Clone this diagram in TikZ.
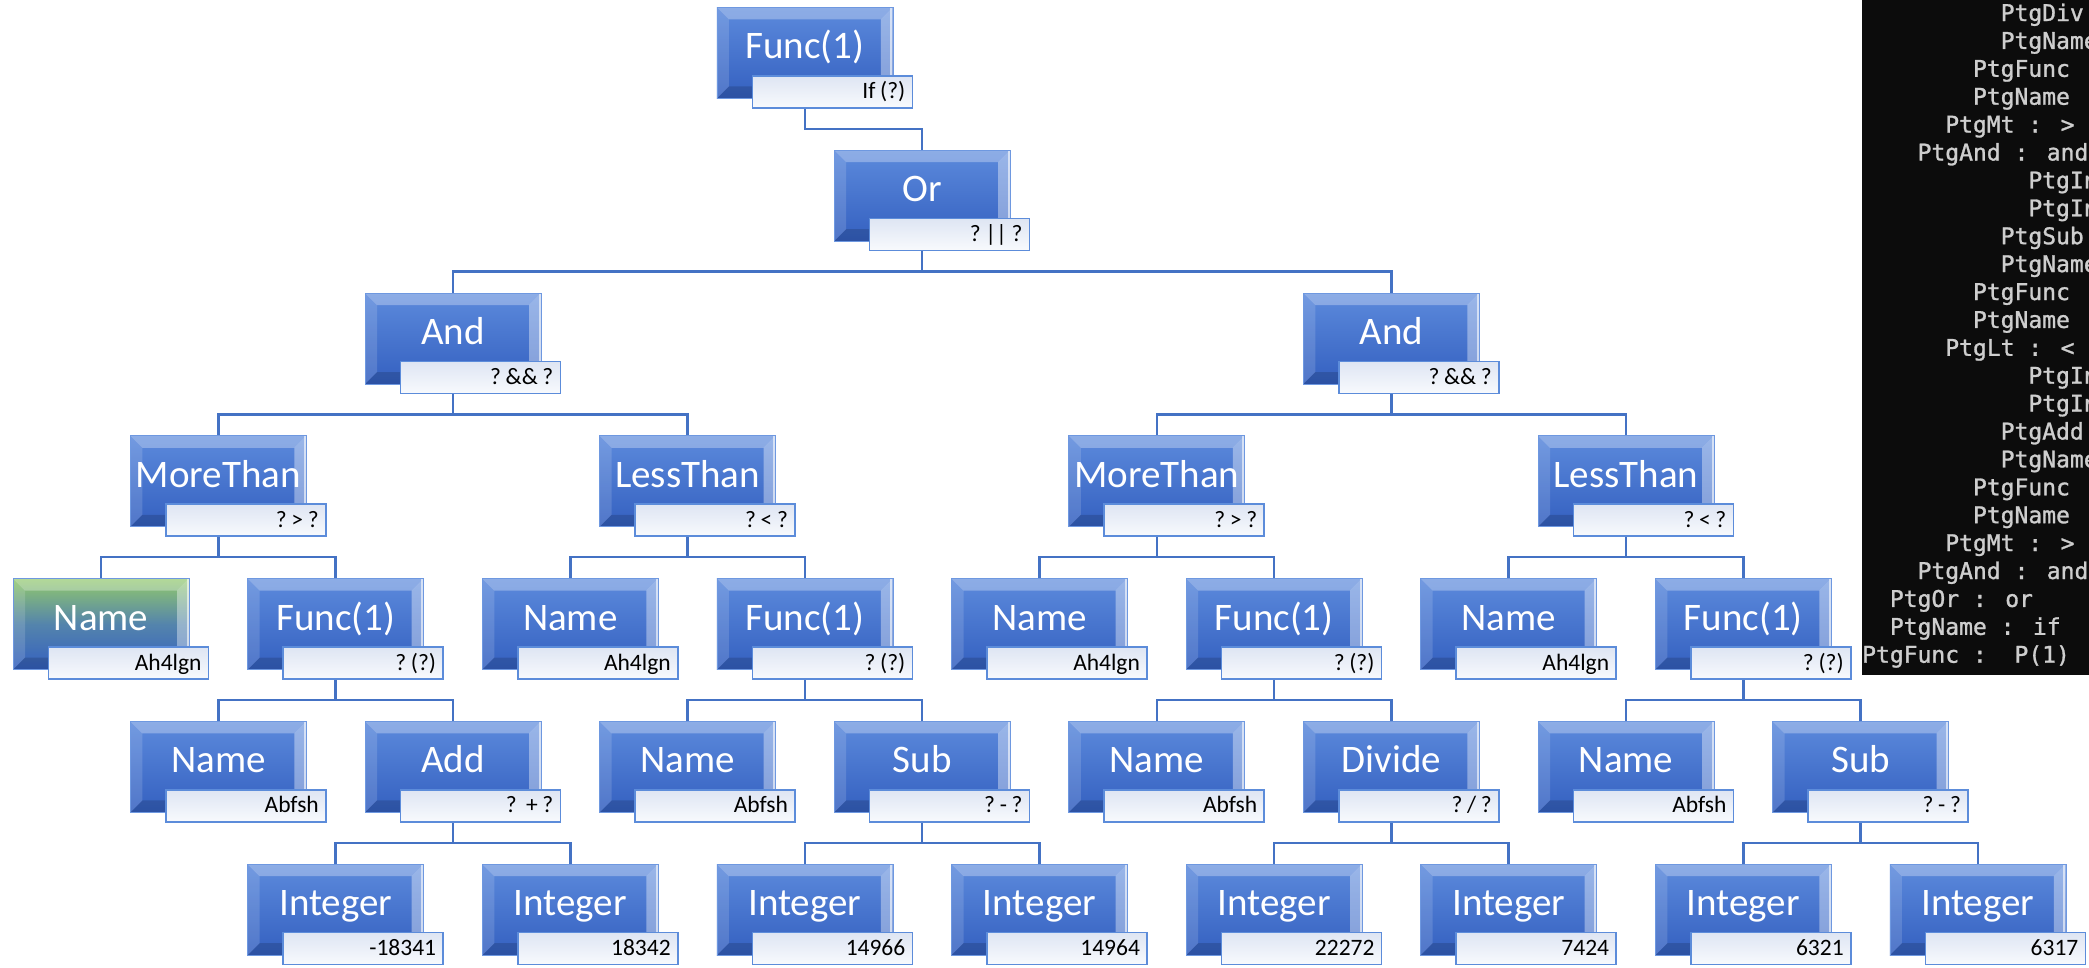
\documentclass[tikz,border=0pt]{standalone}
\usepackage{fontspec}
\setmainfont{Carlito}
\newfontfamily\consfont[FakeBold=1.2]{DejaVu Sans Mono}
\usetikzlibrary{backgrounds}
\definecolor{face1}{RGB}{92,138,220}
\definecolor{face2}{RGB}{52,96,192}
\definecolor{connc}{RGB}{68,114,196}
\definecolor{lblborder}{RGB}{92,140,218}
\definecolor{lbltop}{RGB}{222,229,243}
\definecolor{lblbot}{RGB}{248,250,253}
\definecolor{greentop}{RGB}{146,201,108}
\definecolor{greenmid}{RGB}{84,132,172}
\definecolor{termbg}{RGB}{12,12,12}
\definecolor{termfg}{RGB}{206,206,206}
\def\pnw{path picture bounding box.north west}
\def\pne{path picture bounding box.north east}
\def\psw{path picture bounding box.south west}
\def\pse{path picture bounding box.south east}
\tikzset{
  bevel/.style={path picture={
    \fill[white,opacity=0.3] (\pnw) -- (\pne) -- ([xshift=-12pt,yshift=-12pt]\pne) -- ([xshift=12pt,yshift=-12pt]\pnw) -- cycle;
    \fill[white,opacity=0.14] (\pnw) -- ([xshift=12pt,yshift=-12pt]\pnw) -- ([xshift=12pt,yshift=12pt]\psw) -- (\psw) -- cycle;
    \fill[white,opacity=0.38] (\pne) -- (\pse) -- ([xshift=-12pt,yshift=12pt]\pse) -- ([xshift=-12pt,yshift=-12pt]\pne) -- cycle;
    \fill[black,opacity=0.15] (\psw) -- ([xshift=12pt,yshift=12pt]\psw) -- ([xshift=-12pt,yshift=12pt]\pse) -- (\pse) -- cycle;
    \draw[white,opacity=0.6,line width=2pt] ([xshift=-1.5pt]\pne) -- ([xshift=-1.5pt]\pse);
  }},
  tbox/.style={rectangle, top color=face1, bottom color=face2, draw={rgb,255:red,110;green,152;blue,224}, line width=0.8pt,
    minimum width=176pt, minimum height=91pt, inner sep=0pt, text=white,
    font=\fontsize{39}{40}\selectfont, text height=20pt, text depth=8pt, bevel},
  gbox/.style={tbox, top color=greentop, bottom color=face2, middle color=greenmid},
  lblbox/.style={rectangle, draw=lblborder, line width=1.6pt, top color=lbltop, bottom color=lblbot,
    minimum width=160pt, minimum height=32pt, inner sep=0pt, text width=146pt, align=right,
    font=\fontsize{23.5}{24}\selectfont, text height=15pt, text depth=1pt},
  conn/.style={draw=connc, line width=2.5pt},
  termtxt/.style={text=termfg, font=\consfont\fontsize{23}{24}\selectfont, inner sep=0pt, anchor=base west},
}
\newcommand\tightsp{\frenchspacing\spaceskip=0.2em\relax\xspaceskip=0.2em\relax}
\newcommand\tnode[6]{%
  \pgfmathsetmacro\tnx{12.7+#3*117.3}%
  \pgfmathsetmacro\tny{7+#4*142.8}%
  \node[#1, anchor=north west] (#2) at (\tnx,\tny) {#5};
  \node[lblbox, anchor=north west] (#2l) at (\tnx+35,\tny+68) {\tightsp #6};
}
\newcommand\tline[4]{%
  \node[termtxt] (#1) at (1862+#2*13.85, 21+#3*27.9) {#4};
}
\begin{document}
\begin{tikzpicture}[x=1pt,y=-1pt]
\useasboundingbox (0,0) rectangle (2089,967);
% tree nodes
\tnode{tbox}{fa}{6}{0}{Func(1)}{If (?)}
\tnode{tbox}{orn}{7}{1}{Or}{? || ?}
\tnode{tbox}{a1}{3}{2}{And}{? \&\& ?}
\tnode{tbox}{a2}{11}{2}{And}{? \&\& ?}
\tnode{tbox}{m1}{1}{3}{MoreThan}{? > ?}
\tnode{tbox}{l1}{5}{3}{LessThan}{? < ?}
\tnode{tbox}{m2}{9}{3}{MoreThan}{? > ?}
\tnode{tbox}{l2}{13}{3}{LessThan}{? < ?}
\tnode{gbox}{nm1}{0}{4}{Name}{Ah4lgn}
\tnode{tbox}{f1}{2}{4}{Func(1)}{? (?)}
\tnode{tbox}{nm2}{4}{4}{Name}{Ah4lgn}
\tnode{tbox}{f2}{6}{4}{Func(1)}{? (?)}
\tnode{tbox}{nm3}{8}{4}{Name}{Ah4lgn}
\tnode{tbox}{f3}{10}{4}{Func(1)}{? (?)}
\tnode{tbox}{nm4}{12}{4}{Name}{Ah4lgn}
\tnode{tbox}{f4}{14}{4}{Func(1)}{? (?)}
\tnode{tbox}{nb1}{1}{5}{Name}{Abfsh}
\tnode{tbox}{ad}{3}{5}{Add}{?\ \ + ?}
\tnode{tbox}{nb2}{5}{5}{Name}{Abfsh}
\tnode{tbox}{sb1}{7}{5}{Sub}{? - ?}
\tnode{tbox}{nb3}{9}{5}{Name}{Abfsh}
\tnode{tbox}{dv}{11}{5}{Divide}{? / ?}
\tnode{tbox}{nb4}{13}{5}{Name}{Abfsh}
\tnode{tbox}{sb2}{15}{5}{Sub}{? - ?}
\tnode{tbox}{i1}{2}{6}{Integer}{-18341}
\tnode{tbox}{i2}{4}{6}{Integer}{18342}
\tnode{tbox}{i3}{6}{6}{Integer}{14966}
\tnode{tbox}{i4}{8}{6}{Integer}{14964}
\tnode{tbox}{i5}{10}{6}{Integer}{22272}
\tnode{tbox}{i6}{12}{6}{Integer}{7424}
\tnode{tbox}{i7}{14}{6}{Integer}{6321}
\tnode{tbox}{i8}{16}{6}{Integer}{6317}
% connectors
\begin{scope}[on background layer]
\foreach \p/\c in {fa/orn, orn/a1, orn/a2, a1/m1, a1/l1, a2/m2, a2/l2,
  m1/nm1, m1/f1, l1/nm2, l1/f2, m2/nm3, m2/f3, l2/nm4, l2/f4,
  f1/nb1, f1/ad, f2/nb2, f2/sb1, f3/nb3, f3/dv, f4/nb4, f4/sb2,
  ad/i1, ad/i2, sb1/i3, sb1/i4, dv/i5, dv/i6, sb2/i7, sb2/i8}
  {\draw[conn] (\p.south) |- ([yshift=21pt]\c.north) -- (\c.north);}
\end{scope}
% terminal panel
\begin{scope}
\clip (1862,0) rectangle (2089,675);
\fill[termbg] (1862,0) rectangle (2089,675);
\tline{t1}{10}{0}{PtgDiv}
\tline{t2}{10}{1}{PtgName}
\tline{t3}{8}{2}{PtgFunc}
\tline{t4}{8}{3}{PtgName}
\tline{t5}{6}{4}{PtgMt : >}
\tline{t6}{4}{5}{PtgAnd : and}
\tline{t7}{12}{6}{PtgIn}
\tline{t8}{12}{7}{PtgIn}
\tline{t9}{10}{8}{PtgSub}
\tline{t10}{10}{9}{PtgName}
\tline{t11}{8}{10}{PtgFunc}
\tline{t12}{8}{11}{PtgName}
\tline{t13}{6}{12}{PtgLt : <}
\tline{t14}{12}{13}{PtgIn}
\tline{t15}{12}{14}{PtgIn}
\tline{t16}{10}{15}{PtgAdd}
\tline{t17}{10}{16}{PtgName}
\tline{t18}{8}{17}{PtgFunc}
\tline{t19}{8}{18}{PtgName}
\tline{t20}{6}{19}{PtgMt : >}
\tline{t21}{4}{20}{PtgAnd : and}
\tline{t22}{2}{21}{PtgOr : or}
\tline{t23}{2}{22}{PtgName : if}
\tline{t24}{0}{23}{PtgFunc :\ \ P(1)}
\end{scope}
\end{tikzpicture}
\end{document}
